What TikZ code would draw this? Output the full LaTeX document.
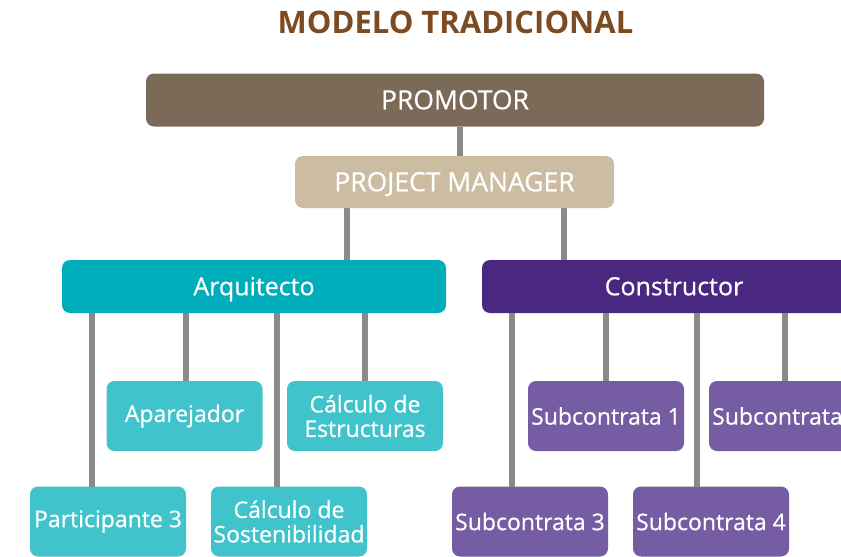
\documentclass[tikz,border=0pt]{standalone}
\usepackage{fontspec}
\setmainfont{Open Sans}[UprightFeatures={FakeBold=0.6}]
\definecolor{titulo}{HTML}{7D4B22}
\definecolor{promo}{HTML}{7B6A58}
\definecolor{manager}{HTML}{CCBCA1}
\definecolor{arqui}{HTML}{00ADBA}
\definecolor{constr}{HTML}{4A2882}
\definecolor{arquiclaro}{HTML}{40C3CA}
\definecolor{constrclaro}{HTML}{755CA3}
\definecolor{linea}{HTML}{8A8A8A}

\begin{document}
\begin{tikzpicture}[
    x = 1pt, y = -1pt,
    every node/.style={ rectangle, rounded corners = 8pt,
      inner sep = 0pt, outer sep = 0pt, text = white, align = center },
    cabeza/.style={ minimum height = 53pt, text height = 17.5pt, text depth = 0pt,
      font = \fontsize{25}{28}\selectfont },
    mayus/.style={ text height = 18.5pt, font = \fontsize{26.5}{30}\selectfont },
    hijo/.style={ minimum width = 156pt, minimum height = 70pt,
      font = \fontsize{23}{24.5}\selectfont },
    enlace/.style={ draw = linea, line width = 6pt }
    ]
  \useasboundingbox (0,0) rectangle (841,557);
  \clip (0,0) rectangle (841,557);
  \node (titulo) [text = titulo, font = \fontsize{31}{34}\selectfont\bfseries] at (455.5,22) {MODELO TRADICIONAL};
  \node (promotor) [cabeza, mayus, fill = promo, minimum width = 618pt] at (455,100) {PROMOTOR};
  \node (manager) [cabeza, mayus, fill = manager, minimum width = 319pt, minimum height = 52pt] at (454.5,182) {PROJECT MANAGER};
  \node (arquitecto) [cabeza, fill = arqui, minimum width = 384pt] at (254,286.5) {Arquitecto};
  \node (constructor) [cabeza, fill = constr, minimum width = 384pt] at (674,286.5) {Constructor};
  \node (aparejador) [hijo, fill = arquiclaro] at (184.5,416) {Aparejador};
  \node (estructuras) [hijo, fill = arquiclaro] at (365,416) {Cálculo de\\Estructuras};
  \node (participante) [hijo, fill = arquiclaro] at (108,521.5) {Participante 3};
  \node (sostenibilidad) [hijo, fill = arquiclaro] at (289,521.5) {Cálculo de\\Sostenibilidad};
  \node (subuno) [hijo, fill = constrclaro] at (606,416) {Subcontrata 1};
  \node (subdos) [hijo, fill = constrclaro] at (787,416) {Subcontrata 2};
  \node (subtres) [hijo, fill = constrclaro] at (530,521.5) {Subcontrata 3};
  \node (subcuatro) [hijo, fill = constrclaro] at (711,521.5) {Subcontrata 4};
\draw [enlace] ([xshift=5pt]promotor.south) -- ([xshift=5pt]promotor.south |- manager.north) ;
\draw [enlace] ([xshift=93pt]arquitecto.north) -- ([xshift=93pt]arquitecto.north |- manager.south) ;
\draw [enlace] ([xshift=-110pt]constructor.north) -- ([xshift=-110pt]constructor.north |- manager.south) ;
\draw [enlace] ([xshift=-16pt]participante.north) -- ([xshift=-16pt]participante.north |- arquitecto.south) ;
\draw [enlace] ([xshift=1.5pt]aparejador.north) -- ([xshift=1.5pt]aparejador.north |- arquitecto.south) ;
\draw [enlace] ([xshift=-12pt]sostenibilidad.north) -- ([xshift=-12pt]sostenibilidad.north |- arquitecto.south) ;
\draw [enlace] (estructuras.north) -- (estructuras.north |- arquitecto.south) ;
\draw [enlace] ([xshift=-18pt]subtres.north) -- ([xshift=-18pt]subtres.north |- constructor.south) ;
\draw [enlace] (subuno.north) -- (subuno.north |- constructor.south) ;
\draw [enlace] ([xshift=-14pt]subcuatro.north) -- ([xshift=-14pt]subcuatro.north |- constructor.south) ;
\draw [enlace] ([xshift=-2pt]subdos.north) -- ([xshift=-2pt]subdos.north |- constructor.south) ;
  \end{tikzpicture}
\end{document}
